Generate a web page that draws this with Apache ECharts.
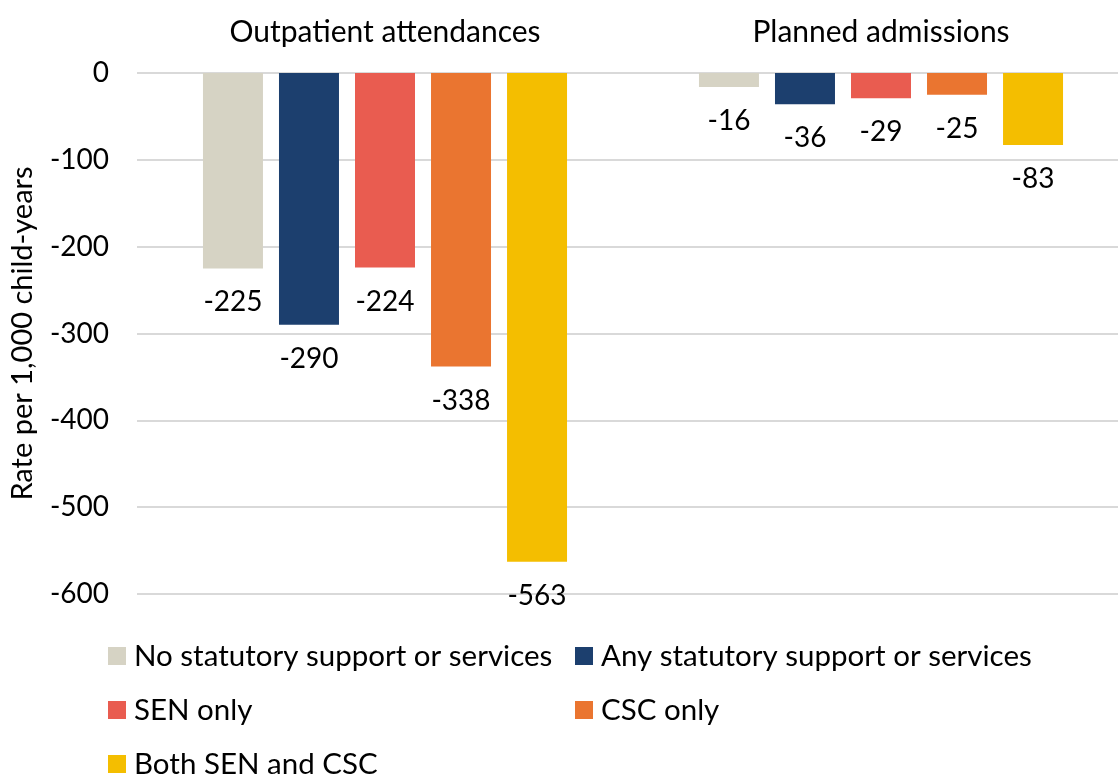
<!DOCTYPE html>
<html>
<head>
<meta charset="utf-8">
<script src="https://cdn.jsdelivr.net/npm/echarts@6/dist/echarts.min.js"></script>
<style>
  html, body { margin: 0; padding: 0; background: #fff; }
  #chart { width: 1118px; height: 775px; }
</style>
</head>
<body>
<div id="chart"></div>
<script>
// 类别与数据
const categories = ['Outpatient attendances', 'Planned admissions'];
const seriesNames = [
  'No statutory support or services',
  'Any statutory support or services',
  'SEN only',
  'CSC only',
  'Both SEN and CSC'
];
const noSupport = [-225, -16];
const anySupport = [-290, -36];
const senOnly = [-224, -29];
const cscOnly = [-338, -25];
const bothSenCsc = [-563, -83];
const colors = ['#D6D3C4', '#1C3F6E', '#E95C50', '#EA7530', '#F4BE00'];

const FONT = 'Lato';
const values = [noSupport, anySupport, senOnly, cscOnly, bothSenCsc];

const chart = echarts.init(document.getElementById('chart'));

const series = values.map((data, i) => ({
  name: seriesNames[i],
  type: 'bar',
  data: data,
  barGap: '26.7%',
  barCategoryGap: '26.6%',
  itemStyle: { color: colors[i] },
  label: {
    show: true,
    position: 'bottom',
    distance: 20,
    color: '#000',
    fontFamily: FONT,
    fontSize: 28
  }
}));

// 图例：每项单独放置，排成两列
const legendPos = [
  { left: 108, top: 641 },
  { left: 575, top: 641 },
  { left: 108, top: 695 },
  { left: 575, top: 695 },
  { left: 108, top: 749 }
];
const legends = seriesNames.map((name, i) => ({
  data: [name],
  left: legendPos[i].left,
  top: legendPos[i].top,
  padding: 0,
  icon: 'rect',
  itemWidth: 18,
  itemHeight: 18,
  textStyle: { fontFamily: FONT, fontSize: 29.5, color: '#000', padding: [0, 0, 0, 3] }
}));

chart.setOption({
  animation: false,
  grid: { left: 137, width: 992, top: 73, bottom: 181, outerBoundsMode: 'none' },
  legend: legends,
  xAxis: {
    type: 'category',
    position: 'top',
    data: categories,
    axisLine: { show: false },
    axisTick: { show: false },
    axisLabel: { fontFamily: FONT, fontSize: 30, color: '#000', margin: 26 }
  },
  yAxis: {
    type: 'value',
    min: -600,
    max: 0,
    interval: 100,
    name: 'Rate per 1,000 child-years',
    nameLocation: 'middle',
    nameRotate: 90,
    nameGap: 100,
    nameTextStyle: { fontFamily: FONT, fontSize: 29, color: '#000' },
    axisLabel: { fontFamily: FONT, fontSize: 28, color: '#000', margin: 28 },
    splitLine: { lineStyle: { color: '#D9D9D9', width: 2 } },
    axisLine: { show: false },
    axisTick: { show: false }
  },
  series: series
});
</script>
</body>
</html>
